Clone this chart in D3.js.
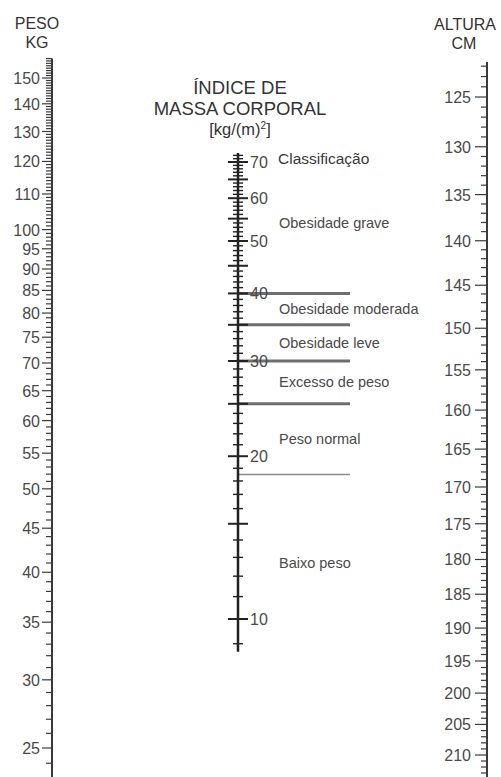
<!DOCTYPE html>
<html>
<head>
<meta charset="utf-8">
<script src="https://cdn.jsdelivr.net/npm/d3@7"></script>
<style>
  html, body { margin: 0; padding: 0; background: #ffffff; }
  svg { display: block; font-family: "Liberation Sans", Arial, Helvetica, sans-serif; }
</style>
</head>
<body>
<svg id="chart" width="501" height="777"></svg>
<script>
// ---- data ----
const weightDomain = [23, 158];          // kg, extent of the weight axis
const weightLabels = [25, 30, 35, 40, 45, 50, 55, 60, 65, 70, 75, 80, 85, 90, 95, 100, 110, 120, 130, 140, 150];
const heightDomain = [121.6, 214];       // cm, extent of the height axis
const heightLabels = [125, 130, 135, 140, 145, 150, 155, 160, 165, 170, 175, 180, 185, 190, 195, 200, 205, 210];
const bmiDomain = [8.7, 72.7];           // kg/m², extent of the BMI axis
const bmiLabels = [10, 20, 30, 40, 50, 60, 70];
const bmiMajor = [10, 15, 20, 25, 30, 35, 40, 45, 50, 55, 60, 65, 70];
const classBounds = [18.5, 25, 30, 35, 40];
const classNames = ["Baixo peso", "Peso normal", "Excesso de peso", "Obesidade leve", "Obesidade moderada", "Obesidade grave"];

// ---- scales (log nomogram) ----
const svg = d3.select("#chart");
const wScale = d3.scaleLog().domain([25, 150]).range([748, 78]);
const hScale = d3.scaleLog().domain([125, 210]).range([97, 755]);
const bScale = d3.scaleLog().domain([10, 70]).range([619, 162]);

const xW = 52, xH = 487, xB = 238;
const axisColor = "#3a3a3a", textColor = "#4a4a4a";

// ---- weight axis ----
const gW = svg.append("g");
gW.append("line").attr("x1", xW).attr("x2", xW)
  .attr("y1", wScale(weightDomain[1])).attr("y2", 777)
  .attr("stroke", axisColor).attr("stroke-width", 2);
const wTicks = d3.range(Math.ceil(weightDomain[0]), weightDomain[1] + 1, 1);
gW.selectAll("line.t").data(wTicks).join("line").attr("class", "t")
  .attr("x1", d => weightLabels.includes(d) ? xW - 10 : xW - 6).attr("x2", xW)
  .attr("y1", d => wScale(d)).attr("y2", d => wScale(d))
  .attr("stroke", axisColor).attr("stroke-width", 1.2);
gW.selectAll("text").data(weightLabels).join("text")
  .attr("x", xW - 12).attr("y", d => wScale(d) + 6)
  .attr("text-anchor", "end").attr("font-size", 16).attr("fill", textColor)
  .text(d => d);

// ---- height axis ----
const gH = svg.append("g");
gH.append("line").attr("x1", xH).attr("x2", xH)
  .attr("y1", hScale(heightDomain[0])).attr("y2", 777)
  .attr("stroke", axisColor).attr("stroke-width", 2);
const hTicks = d3.range(Math.ceil(heightDomain[0]), heightDomain[1] + 1, 1);
gH.selectAll("line.t").data(hTicks).join("line").attr("class", "t")
  .attr("x1", d => heightLabels.includes(d) ? xH - 12 : xH - 6).attr("x2", xH)
  .attr("y1", d => hScale(d)).attr("y2", d => hScale(d))
  .attr("stroke", axisColor).attr("stroke-width", 1.2);
gH.selectAll("text").data(heightLabels).join("text")
  .attr("x", xH - 16).attr("y", d => hScale(d) + 6)
  .attr("text-anchor", "end").attr("font-size", 16).attr("fill", textColor)
  .text(d => d);

// ---- classification lines ----
const gC = svg.append("g");
gC.selectAll("line").data(classBounds).join("line")
  .attr("x1", xB).attr("x2", 350)
  .attr("y1", d => bScale(d)).attr("y2", d => bScale(d))
  .attr("stroke", d => d === 18.5 ? "#8a8a8a" : "#6e6e6e")
  .attr("stroke-width", d => d === 18.5 ? 1.5 : 3);

// ---- BMI axis ----
const gB = svg.append("g");
gB.append("line").attr("x1", xB).attr("x2", xB)
  .attr("y1", bScale(bmiDomain[1])).attr("y2", bScale(bmiDomain[0]))
  .attr("stroke", "#222").attr("stroke-width", 2.5);
const bTicks = d3.range(Math.ceil(bmiDomain[0]), bmiDomain[1], 1);
gB.selectAll("line.t").data(bTicks).join("line").attr("class", "t")
  .attr("x1", d => bmiMajor.includes(d) ? xB - 10 : xB - 5)
  .attr("x2", d => bmiMajor.includes(d) ? xB + 10 : xB + 5)
  .attr("y1", d => bScale(d)).attr("y2", d => bScale(d))
  .attr("stroke", "#222").attr("stroke-width", d => bmiMajor.includes(d) ? 2 : 1.4);
gB.selectAll("text").data(bmiLabels).join("text")
  .attr("x", xB + 12).attr("y", d => bScale(d) + 6)
  .attr("font-size", 16).attr("fill", textColor)
  .text(d => d);

// ---- classification labels (placed at geometric middle of each band) ----
const edges = [bmiDomain[0], ...classBounds, bmiDomain[1]];
svg.append("g").selectAll("text").data(classNames).join("text")
  .attr("x", 279)
  .attr("y", (d, i) => bScale(Math.sqrt(edges[i] * edges[i + 1])) + 5)
  .attr("font-size", 14.5).attr("fill", "#4a4a4a")
  .text(d => d);
svg.append("text").attr("x", 278).attr("y", bScale(70) + 2)
  .attr("font-size", 15.5).attr("fill", "#3a3a3a").text("Classificação");

// ---- titles ----
const titles = svg.append("g").attr("fill", "#333").attr("text-anchor", "middle");
titles.append("text").attr("x", 37).attr("y", 29).attr("font-size", 16).text("PESO");
titles.append("text").attr("x", 37).attr("y", 48).attr("font-size", 16).text("KG");
titles.append("text").attr("x", 465).attr("y", 30).attr("font-size", 16).text("ALTURA");
titles.append("text").attr("x", 464).attr("y", 49).attr("font-size", 16).text("CM");
titles.append("text").attr("x", 240).attr("y", 94).attr("font-size", 18.5).text("ÍNDICE DE");
titles.append("text").attr("x", 240).attr("y", 115).attr("font-size", 18.5).text("MASSA CORPORAL");
const unit = titles.append("text").attr("x", 240).attr("y", 135).attr("font-size", 16.5);
unit.append("tspan").text("[kg/(m)");
unit.append("tspan").attr("font-size", 10).attr("dy", -6).text("2");
unit.append("tspan").attr("dy", 6).text("]");
</script>
</body>
</html>
